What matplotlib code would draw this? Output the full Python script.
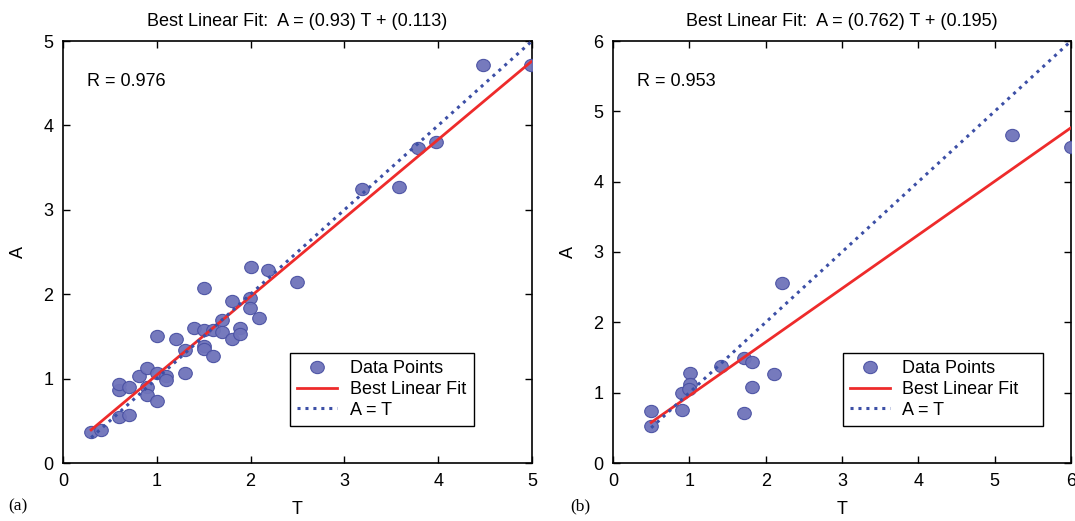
import numpy as np
import matplotlib
matplotlib.use("Agg")
import matplotlib.pyplot as plt
from matplotlib.path import Path
from matplotlib.transforms import Affine2D

# ---- data (a) ----
T_a = [0.3, 0.4, 0.6, 0.7, 0.6, 0.6, 0.7, 0.81, 0.9, 0.9, 0.9, 1.0, 1.0, 1.1, 1.1,
       1.3, 1.3, 1.0, 1.2, 1.4, 1.5, 1.5, 1.5, 1.6, 1.6, 1.7, 1.7, 1.8, 1.8, 1.89,
       1.89, 1.99, 1.99, 2.09, 1.5, 2.0, 2.19, 2.49, 3.19, 3.58, 3.78, 3.98, 4.48, 4.99]
A_a = [0.37, 0.39, 0.545, 0.57, 0.86, 0.94, 0.905, 1.035, 1.13, 0.90, 0.81, 0.73, 1.07,
       1.035, 0.98, 1.07, 1.34, 1.50, 1.47, 1.60, 1.58, 1.39, 1.35, 1.27, 1.58, 1.69,
       1.55, 1.47, 1.92, 1.60, 1.53, 1.96, 1.84, 1.72, 2.07, 2.32, 2.29, 2.15, 3.25,
       3.27, 3.73, 3.80, 4.72, 4.71]
slope_a, icpt_a, R_a = 0.93, 0.113, 0.976

# ---- data (b) ----
T_b = [0.5, 0.5, 0.91, 0.91, 1.01, 1.01, 1.0, 1.41, 1.71, 1.82, 1.82, 1.71, 2.11, 2.22, 5.23, 6.0]
A_b = [0.53, 0.74, 0.76, 1.0, 1.28, 1.12, 1.05, 1.38, 1.49, 1.44, 1.08, 0.71, 1.26, 2.56, 4.66, 4.49]
slope_b, icpt_b, R_b = 0.762, 0.195, 0.953

plt.rcParams['font.family'] = ['Liberation Sans', 'DejaVu Sans']

W, H = 1075, 521
fig = plt.figure(figsize=(W / 100, H / 100), dpi=100)

def px_axes(x0, x1, y0, y1):
    return fig.add_axes([x0 / W, 1 - y1 / H, (x1 - x0) / W, (y1 - y0) / H])

ax_a = px_axes(63, 532, 41, 463)
ax_b = px_axes(613, 1071, 41, 463)

ell = Path.unit_circle().transformed(Affine2D().scale(1.0, 0.9))

face = '#6f73ba'
edge = '#4a51a3'
red = '#ee2b2b'
blue = '#3c4fa6'

def panel(ax, T, A, slope, icpt, R, lim, tag, tagx, leg_box):
    T = np.asarray(T); A = np.asarray(A)
    ax.plot(T, A, linestyle='none', marker=ell, markersize=9.8,
            markerfacecolor=face, markeredgecolor=edge, markeredgewidth=0.8,
            alpha=0.95, label='Data Points', zorder=3, clip_on=True)
    tt = np.array([T.min(), T.max()])
    ax.plot(tt, slope * tt + icpt, color=red, lw=2.0, label='Best Linear Fit', zorder=4)
    ax.plot(tt, tt, color=blue, lw=2.2, linestyle=(0, (1, 1.6)), label='A = T', zorder=4)
    ax.set_xlim(0, lim); ax.set_ylim(0, lim)
    ax.set_xticks(range(lim + 1)); ax.set_yticks(range(lim + 1))
    ax.tick_params(direction='in', top=True, right=True, length=5, width=1,
                   labelsize=13, pad=7)
    for s in ax.spines.values():
        s.set_linewidth(1.2)
    ax.set_xlabel('T', fontsize=13, labelpad=8)
    ax.set_ylabel('A', fontsize=13, labelpad=12)
    ax.set_title(f'Best Linear Fit:  A = ({slope:g}) T + ({icpt:g})', fontsize=13, pad=11)
    ax.text(0.052, 0.905, f'R = {R:g}', transform=ax.transAxes, fontsize=13,
            va='center', ha='left')
    leg = ax.legend(loc='lower left', bbox_to_anchor=leg_box, mode='expand', fontsize=13,
                    frameon=True, fancybox=False, edgecolor='black', framealpha=1,
                    handlelength=2.2, borderpad=0.4, labelspacing=0.2,
                    handletextpad=0.7, borderaxespad=0)
    leg.get_frame().set_linewidth(1.0)
    fig.text(tagx / W, 1 - 506 / H, tag, fontsize=12.5, family='Liberation Serif',
             va='center', ha='left')

panel(ax_a, T_a, A_a, slope_a, icpt_a, R_a, 5, '(a)', 8, (0.484, 0.088, 0.392, 0.1))
panel(ax_b, T_b, A_b, slope_b, icpt_b, R_b, 6, '(b)', 570, (0.502, 0.088, 0.437, 0.1))

fig.savefig('out.png', dpi=100)
